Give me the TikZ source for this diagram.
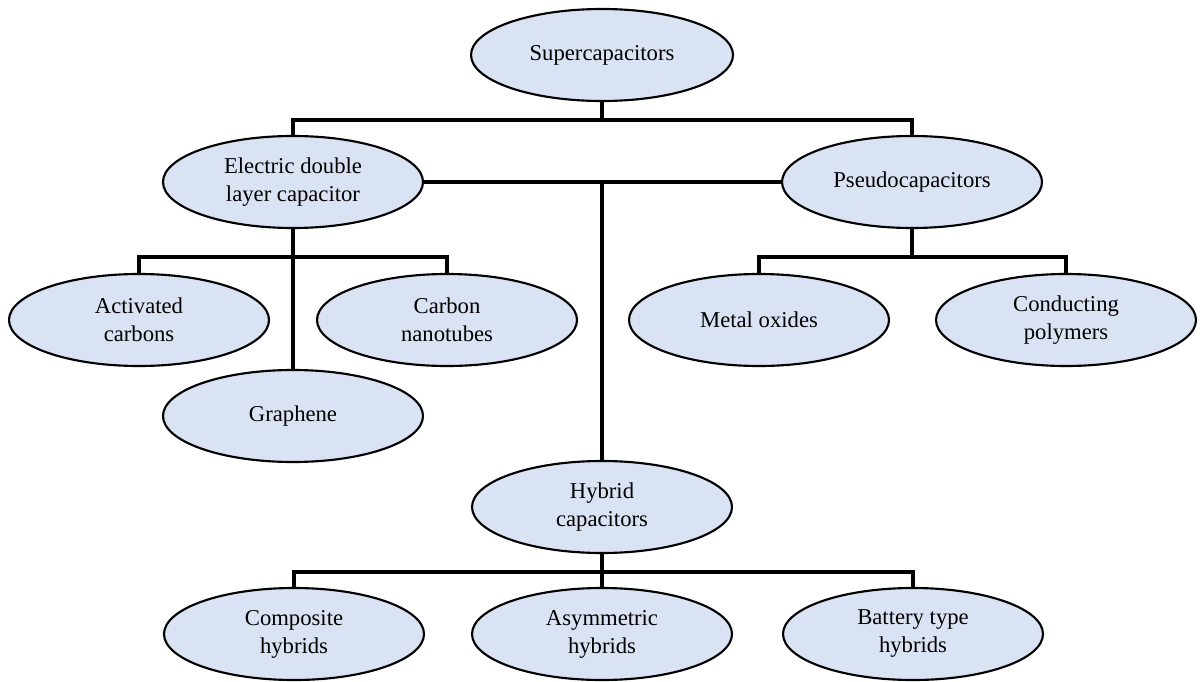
\documentclass[tikz,border=0pt]{standalone}
\usepackage{fontspec}
\setmainfont{Liberation Serif}
\usetikzlibrary{shapes.geometric}
\definecolor{boxfill}{HTML}{DAE3F3}
\tikzset{
  oval/.style={ellipse, draw=black, line width=1.6pt, fill=boxfill,
    minimum width=195pt, minimum height=69pt, inner sep=0pt, outer sep=0pt,
    align=center, font=\fontsize{17pt}{21pt}\selectfont},
  link/.style={draw=black, line width=2.4pt}
}
\begin{document}
\begin{tikzpicture}[x=0.75pt, y=-0.75pt]
\useasboundingbox (0,0) rectangle (1201,681);
% nodes
\node[oval, minimum width=196.5pt] (super) at (602,55) {Supercapacitors};
\node[oval] (edlc) at (293,182) {Electric double\\layer capacitor};
\node[oval] (pseudo) at (912,182) {Pseudocapacitors};
\node[oval] (act) at (139,320) {Activated\\carbons};
\node[oval] (cnt) at (447,320) {Carbon\\nanotubes};
\node[oval] (graph) at (293,416) {Graphene};
\node[oval] (metal) at (759,320) {Metal oxides};
\node[oval] (cond) at (1066,320) {Conducting\\polymers};
\node[oval] (hyb) at (602,507) {Hybrid\\capacitors};
\node[oval] (comp) at (294,634) {Composite\\hybrids};
\node[oval] (asym) at (602,634) {Asymmetric\\hybrids};
\node[oval] (batt) at (913,634) {Battery type\\hybrids};
% junctions
\coordinate (j1) at (602,120);
\coordinate (j2) at (293,257);
\coordinate (j3) at (912,257);
\coordinate (j4) at (602,572);
% connectors
\draw[link] (super.south) -- (j1);
\draw[link] (edlc.north) |- (j1) -| (pseudo.north);
\draw[link] (edlc.east) -- (pseudo.west);
\draw[link] (hyb.north) -- (hyb.north |- edlc.east);
\draw[link] (edlc.south) -- (graph.north);
\draw[link] (act.north) |- (j2) -| (cnt.north);
\draw[link] (pseudo.south) -- (j3);
\draw[link] (metal.north) |- (j3) -| (cond.north);
\draw[link] (hyb.south) -- (asym.north);
\draw[link] (comp.north) |- (j4) -| (batt.north);
\end{tikzpicture}
\end{document}
